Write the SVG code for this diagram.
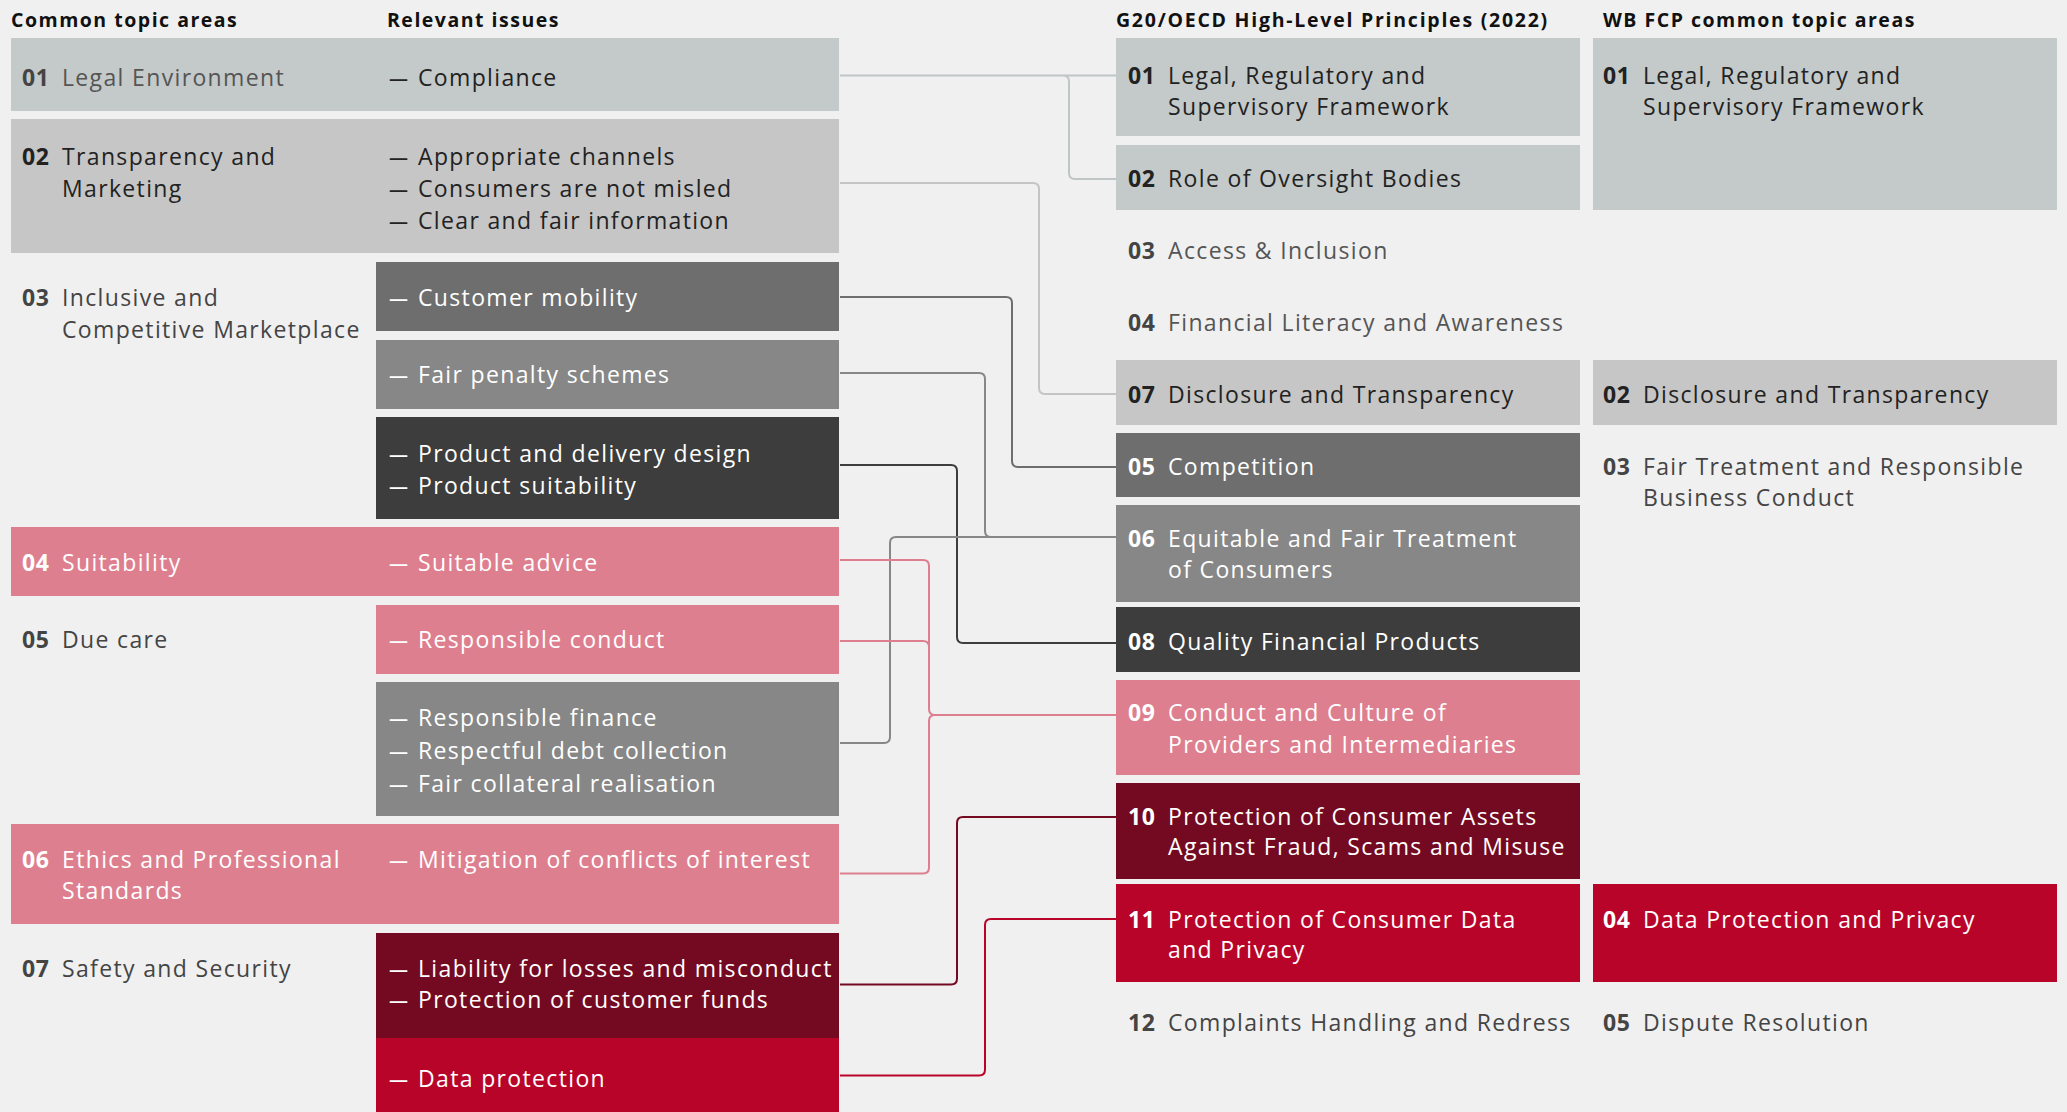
<svg xmlns="http://www.w3.org/2000/svg" width="2067" height="1112" viewBox="0 0 2067 1112">
  <style>
    text { font-family: "Open Sans", "Liberation Sans", sans-serif; font-size: 23px; letter-spacing: 1.35px; }
    .hd { font-weight: 700; font-size: 19.5px; fill: #111; letter-spacing: 1.5px; }
    .n { font-weight: 700; letter-spacing: 0.6px; }
    .d { font-size: 19px; font-weight: 600; baseline-shift: 1.5px; }
    .dk { fill: #222; }
    .md { fill: #444; }
    .lt { fill: #555; }
    .w { fill: #fff; }
    .c-legal { fill: #c4c9c9; }
    .c-trans { fill: #c6c6c6; }
    .c-g1 { fill: #6e6e6e; }
    .c-g2 { fill: #878787; }
    .c-g3 { fill: #3c3d3c; }
    .c-pink { fill: #de7f8f; }
    .c-wine { fill: #740a21; }
    .c-red { fill: #b9042a; }
    .ln { fill: none; stroke-width: 2; }
  </style>
  <rect width="2067" height="1112" fill="#f0f0f0"/>

  <!-- column headings -->
  <g id="headings">
    <text class="hd" x="11" y="27">Common topic areas</text>
    <text class="hd" x="387" y="27">Relevant issues</text>
    <text class="hd" x="1116" y="27" style="letter-spacing:1.75px">G20/OECD High-Level Principles (2022)</text>
    <text class="hd" x="1603" y="27">WB FCP common topic areas</text>
  </g>

  <!-- connectors -->
  <g id="connectors">
    <path class="ln" stroke="#c0c5c5" d="M840,75.5 H1116 M1063,75.5 Q1069,75.5 1069,81.5 V173 Q1069,179 1075,179 H1116"/>
    <path class="ln" stroke="#c4c4c4" d="M840,183 H1033 Q1039,183 1039,189 V388 Q1039,394 1045,394 H1116"/>
    <path class="ln" stroke="#6e6e6e" d="M840,297 H1006 Q1012,297 1012,303 V461 Q1012,467 1018,467 H1116"/>
    <path class="ln" stroke="#878787" d="M840,373 H979 Q985,373 985,379 V531 Q985,537 991,537 H1116"/>
    <path class="ln" stroke="#3c3d3c" d="M840,465 H951 Q957,465 957,471 V637 Q957,643 963,643 H1116"/>
    <path class="ln" stroke="#878787" d="M840,743 H884 Q890,743 890,737 V543 Q890,537 896,537 H1116"/>
    <path class="ln" stroke="#de7f8f" d="M840,560 H923 Q929,560 929,566 V709 Q929,715 935,715 H1116 M840,641 H923 Q929,641 929,647 M840,873.5 H923 Q929,873.5 929,867.5 V721 Q929,715 935,715"/>
    <path class="ln" stroke="#740a21" d="M840,984.5 H951 Q957,984.5 957,978.5 V823 Q957,817 963,817 H1116"/>
    <path class="ln" stroke="#b9042a" d="M840,1075.5 H979 Q985,1075.5 985,1069.5 V925 Q985,919 991,919 H1116"/>
  </g>

  <!-- common topic areas and their issues -->
  <g id="area-01">
    <rect class="c-legal" x="11" y="38" width="828" height="73"/>
    <text x="22" y="86"><tspan class="n md">01</tspan><tspan class="lt" x="62">Legal Environment</tspan></text>
  </g>
  <g id="issue-compliance">
    <text class="dk" x="389" y="86"><tspan class="d">—</tspan><tspan x="418">Compliance</tspan></text>
  </g>

  <g id="area-02">
    <rect class="c-trans" x="11" y="119" width="828" height="134"/>
    <text class="dk" x="22" y="165"><tspan class="n">02</tspan><tspan x="62">Transparency and</tspan></text>
    <text class="dk" x="62" y="197">Marketing</text>
  </g>
  <g id="issue-transparency">
    <text class="dk" x="389" y="165"><tspan class="d">—</tspan><tspan x="418">Appropriate channels</tspan></text>
    <text class="dk" x="389" y="197"><tspan class="d">—</tspan><tspan x="418">Consumers are not misled</tspan></text>
    <text class="dk" x="389" y="229"><tspan class="d">—</tspan><tspan x="418">Clear and fair information</tspan></text>
  </g>

  <g id="area-03">
    <text class="md" x="22" y="306"><tspan class="n">03</tspan><tspan x="62">Inclusive and</tspan></text>
    <text class="md" x="62" y="338">Competitive Marketplace</text>
  </g>
  <g id="issue-mobility">
    <rect class="c-g1" x="376" y="262" width="463" height="69"/>
    <text class="w" x="389" y="306"><tspan class="d">—</tspan><tspan x="418">Customer mobility</tspan></text>
  </g>
  <g id="issue-penalty">
    <rect class="c-g2" x="376" y="340" width="463" height="69"/>
    <text class="w" x="389" y="383"><tspan class="d">—</tspan><tspan x="418">Fair penalty schemes</tspan></text>
  </g>
  <g id="issue-product">
    <rect class="c-g3" x="376" y="417" width="463" height="102"/>
    <text class="w" x="389" y="462"><tspan class="d">—</tspan><tspan x="418">Product and delivery design</tspan></text>
    <text class="w" x="389" y="494"><tspan class="d">—</tspan><tspan x="418">Product suitability</tspan></text>
  </g>

  <g id="area-04">
    <rect class="c-pink" x="11" y="527" width="828" height="69"/>
    <text class="w" x="22" y="571"><tspan class="n">04</tspan><tspan x="62">Suitability</tspan></text>
  </g>
  <g id="issue-advice">
    <text class="w" x="389" y="571"><tspan class="d">—</tspan><tspan x="418">Suitable advice</tspan></text>
  </g>

  <g id="area-05">
    <text class="md" x="22" y="648"><tspan class="n">05</tspan><tspan x="62">Due care</tspan></text>
  </g>
  <g id="issue-conduct">
    <rect class="c-pink" x="376" y="605" width="463" height="69"/>
    <text class="w" x="389" y="648"><tspan class="d">—</tspan><tspan x="418">Responsible conduct</tspan></text>
  </g>
  <g id="issue-finance">
    <rect class="c-g2" x="376" y="682" width="463" height="134"/>
    <text class="w" x="389" y="726"><tspan class="d">—</tspan><tspan x="418">Responsible finance</tspan></text>
    <text class="w" x="389" y="759"><tspan class="d">—</tspan><tspan x="418">Respectful debt collection</tspan></text>
    <text class="w" x="389" y="792"><tspan class="d">—</tspan><tspan x="418">Fair collateral realisation</tspan></text>
  </g>

  <g id="area-06">
    <rect class="c-pink" x="11" y="824" width="828" height="100"/>
    <text class="w" x="22" y="868"><tspan class="n">06</tspan><tspan x="62">Ethics and Professional</tspan></text>
    <text class="w" x="62" y="899">Standards</text>
  </g>
  <g id="issue-conflicts">
    <text class="w" x="389" y="868"><tspan class="d">—</tspan><tspan x="418">Mitigation of conflicts of interest</tspan></text>
  </g>

  <g id="area-07">
    <text class="md" x="22" y="977"><tspan class="n">07</tspan><tspan x="62">Safety and Security</tspan></text>
  </g>
  <g id="issue-liability">
    <rect class="c-wine" x="376" y="933" width="463" height="105"/>
    <text class="w" x="389" y="977"><tspan class="d">—</tspan><tspan x="418">Liability for losses and misconduct</tspan></text>
    <text class="w" x="389" y="1008"><tspan class="d">—</tspan><tspan x="418">Protection of customer funds</tspan></text>
  </g>
  <g id="issue-data">
    <rect class="c-red" x="376" y="1038" width="463" height="74"/>
    <text class="w" x="389" y="1087"><tspan class="d">—</tspan><tspan x="418">Data protection</tspan></text>
  </g>

  <!-- G20/OECD principles -->
  <g id="oecd-01">
    <rect class="c-legal" x="1116" y="38" width="464" height="98"/>
    <text class="dk" x="1128" y="84"><tspan class="n">01</tspan><tspan x="1168">Legal, Regulatory and</tspan></text>
    <text class="dk" x="1168" y="115">Supervisory Framework</text>
  </g>
  <g id="oecd-02">
    <rect class="c-legal" x="1116" y="145" width="464" height="65"/>
    <text class="dk" x="1128" y="187"><tspan class="n">02</tspan><tspan x="1168">Role of Oversight Bodies</tspan></text>
  </g>
  <g id="oecd-03">
    <text class="lt" x="1128" y="259"><tspan class="n md">03</tspan><tspan x="1168">Access &amp; Inclusion</tspan></text>
  </g>
  <g id="oecd-04">
    <text class="lt" x="1128" y="331"><tspan class="n md">04</tspan><tspan x="1168">Financial Literacy and Awareness</tspan></text>
  </g>
  <g id="oecd-07">
    <rect class="c-trans" x="1116" y="360" width="464" height="65"/>
    <text class="dk" x="1128" y="403"><tspan class="n">07</tspan><tspan x="1168">Disclosure and Transparency</tspan></text>
  </g>
  <g id="oecd-05">
    <rect class="c-g1" x="1116" y="433" width="464" height="64"/>
    <text class="w" x="1128" y="475"><tspan class="n">05</tspan><tspan x="1168">Competition</tspan></text>
  </g>
  <g id="oecd-06">
    <rect class="c-g2" x="1116" y="505" width="464" height="97"/>
    <text class="w" x="1128" y="547"><tspan class="n">06</tspan><tspan x="1168">Equitable and Fair Treatment</tspan></text>
    <text class="w" x="1168" y="578">of Consumers</text>
  </g>
  <g id="oecd-08">
    <rect class="c-g3" x="1116" y="607" width="464" height="65"/>
    <text class="w" x="1128" y="650"><tspan class="n">08</tspan><tspan x="1168">Quality Financial Products</tspan></text>
  </g>
  <g id="oecd-09">
    <rect class="c-pink" x="1116" y="680" width="464" height="95"/>
    <text class="w" x="1128" y="721"><tspan class="n">09</tspan><tspan x="1168">Conduct and Culture of</tspan></text>
    <text class="w" x="1168" y="753">Providers and Intermediaries</text>
  </g>
  <g id="oecd-10">
    <rect class="c-wine" x="1116" y="783" width="464" height="96"/>
    <text class="w" x="1128" y="825"><tspan class="n">10</tspan><tspan x="1168">Protection of Consumer Assets</tspan></text>
    <text class="w" x="1168" y="855">Against Fraud, Scams and Misuse</text>
  </g>
  <g id="oecd-11">
    <rect class="c-red" x="1116" y="884" width="464" height="98"/>
    <text class="w" x="1128" y="928"><tspan class="n">11</tspan><tspan x="1168">Protection of Consumer Data</tspan></text>
    <text class="w" x="1168" y="958">and Privacy</text>
  </g>
  <g id="oecd-12">
    <text class="md" x="1128" y="1031"><tspan class="n">12</tspan><tspan x="1168">Complaints Handling and Redress</tspan></text>
  </g>

  <!-- World Bank FCP topic areas -->
  <g id="wb-01">
    <rect class="c-legal" x="1593" y="38" width="464" height="172"/>
    <text class="dk" x="1603" y="84"><tspan class="n">01</tspan><tspan x="1643">Legal, Regulatory and</tspan></text>
    <text class="dk" x="1643" y="115">Supervisory Framework</text>
  </g>
  <g id="wb-02">
    <rect class="c-trans" x="1593" y="360" width="464" height="65"/>
    <text class="dk" x="1603" y="403"><tspan class="n">02</tspan><tspan x="1643">Disclosure and Transparency</tspan></text>
  </g>
  <g id="wb-03">
    <text class="md" x="1603" y="475"><tspan class="n">03</tspan><tspan x="1643">Fair Treatment and Responsible</tspan></text>
    <text class="md" x="1643" y="506">Business Conduct</text>
  </g>
  <g id="wb-04">
    <rect class="c-red" x="1593" y="884" width="464" height="98"/>
    <text class="w" x="1603" y="928"><tspan class="n">04</tspan><tspan x="1643">Data Protection and Privacy</tspan></text>
  </g>
  <g id="wb-05">
    <text class="md" x="1603" y="1031"><tspan class="n">05</tspan><tspan x="1643">Dispute Resolution</tspan></text>
  </g>
</svg>
